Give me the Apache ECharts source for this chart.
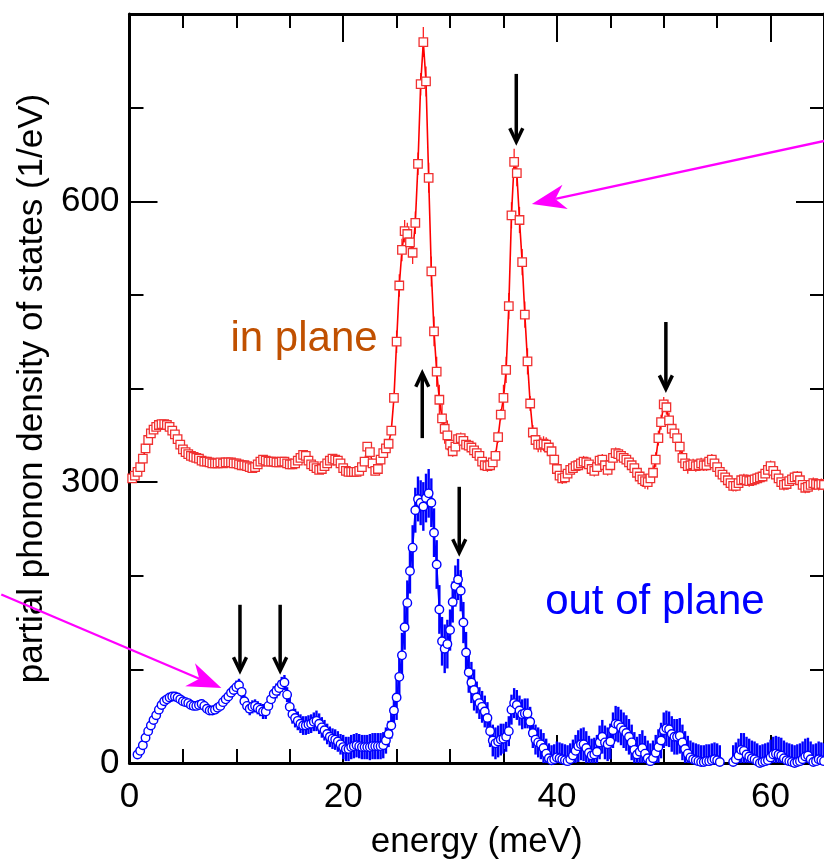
<!DOCTYPE html>
<html><head><meta charset="utf-8">
<script src="https://cdn.jsdelivr.net/npm/echarts@6/dist/echarts.min.js"></script>
<style>html,body{margin:0;padding:0;background:#fff}#c{width:824px;height:865px}</style>
</head><body><div id="c"></div>
<script>
// energy grid (meV)
const E_START = 0.25, E_STEP = 0.25;
// in-plane partial phonon DOS (1/eV), one value per grid point
const inPlane = [
304,307,311,316,325,336,345,352,356,359,361,362,362,361,359,355,351,346,340,335,
332,330,328,327,326,325,323,322,322,321,320,320,320,321,320,321,321,321,320,320,
319,318,318,317,316,315,316,319,322,324,323,322,322,322,321,321,322,322,320,319,
319,320,323,326,329,328,323,319,317,315,313,314,317,320,323,325,324,323,320,315,
312,311,311,311,311,312,316,322,338,332,320,312,314,324,331,336,341,355,390,450,
510,548,568,565,556,545,577,640,725,770,728,625,525,461,418,388,368,357,350,340,
333,338,346,347,344,340,339,337,334,331,328,322,318,317,318,321,328,348,372,390,
420,488,585,642,630,580,535,479,429,384,353,345,340,340,341,340,337,333,324,314,
307,304,305,309,313,315,317,318,320,322,321,319,314,312,316,323,324,318,313,318,
326,331,330,328,326,324,321,318,315,310,306,303,301,300,304,310,324,347,364,383,
380,366,357,352,347,338,326,320,317,318,319,317,318,320,318,318,322,324,320,316,
311,308,305,302,299,296,296,299,302,303,302,301,302,303,304,305,306,309,313,317,
312,308,304,300,297,298,301,303,305,306,302,297,294,295,297,299,298,297,298,297
];
// out-of-plane partial phonon DOS (1/eV)
const outPlane = [
null,null,9,13,19,27,34,40,46,51,57,62,66,68,70,71,71,70,68,66,
65,64,62,61,61,62,63,61,58,56,56,57,59,61,65,68,71,75,78,81,
83,76,66,61,58,60,61,59,57,55,55,61,68,74,77,80,84,86,73,60,
52,48,45,42,40,40,41,42,44,45,42,38,35,31,28,26,25,23,20,17,
15,15,17,18,19,18,17,17,17,17,18,18,18,18,19,24,31,40,56,70,
92,115,145,171,205,230,270,282,278,274,283,288,278,246,212,164,130,122,127,142,
172,189,196,184,150,118,97,86,78,70,64,60,55,48,34,24,21,23,25,26,
28,34,57,64,62,56,52,53,53,44,32,25,22,20,16,10,5,3,4,6,
5,4,3,2,4,8,13,18,20,20,16,11,8,9,12,22,28,22,20,23,
35,42,41,38,35,32,28,22,14,9,12,16,10,5,2,5,11,17,24,35,
37,36,31,28,28,29,22,15,10,6,4,3,2,1,1,2,2,3,4,3,
1,null,null,null,null,1,4,8,14,13,9,7,5,4,2,0,1,2,3,6,
9,10,9,8,5,3,2,1,0,1,2,4,7,8,4,1,2,4,3,2
];
// error-bar half lengths, per 2.5 meV energy bin
const ERR_BIN = 2.5;
const inPlaneErr  = [4,4,4,4,4,4,4,4,4,5,12,16,6,6,14,8,6,6,6,8,8,6,6,6,6,6];
const outPlaneErr = [2,2,3,4,7,8,10,11,13,14,24,26,22,17,16,16,17,18,19,19,19,18,18,19,19,19];
// axes
const X_MIN = 0, X_MAX = 65, X_MINOR = 5, xMajorTicks = [0,20,40,60];
const Y_MIN = 0, Y_MAX = 800, Y_MINOR = 100, yMajorTicks = [0,300,600];
// annotations (data coordinates)
const blackArrows = [ // [energy, from, to]
  [36.2, 736, 662], [50.2, 471, 398], [30.86, 295, 223], [10.34, 169, 97], [14.1, 169, 97], [27.4, 347, 418]
];
const pinkArrows = [ // [[fromE, fromV], [toE, toV]]
  [[66.5, 668], [37.66, 597]], [[-12, 180], [8.6, 80]]
];
const labels = [
  {text: 'in plane', at: [9.45, 452], color: '#c05000'},
  {text: 'out of plane', at: [38.9, 171], color: '#0000ff'}
];

const FONT = '"Liberation Sans", Arial, Helvetica, sans-serif';
const energy = i => E_START + i * E_STEP;
const redData = inPlane.map((v, i) => [energy(i), v]);
const blueData = outPlane.map((v, i) => [energy(i), v]);
const binErr = (arr, e) => arr[Math.min(arr.length - 1, Math.floor(e / ERR_BIN))];
const redErr = inPlane.map((v, i) => v == null ? null : [energy(i), v, binErr(inPlaneErr, energy(i))]).filter(Boolean);
const blueErr = outPlane.map((v, i) => v == null ? null : [energy(i), v, binErr(outPlaneErr, energy(i))]).filter(Boolean);

function errRender(color, width) {
  return function (params, api) {
    const x = api.value(0), y = api.value(1), e = api.value(2);
    const p1 = api.coord([x, y - e]), p2 = api.coord([x, y + e]);
    return {type: 'line', shape: {x1: p1[0], y1: p1[1], x2: p2[0], y2: p2[1]},
      style: {stroke: color, lineWidth: width}};
  };
}

function xAxisCfg(pos, major, showLine) {
  return {
    type: 'value', position: pos, min: X_MIN, max: X_MAX, interval: major ? 20 : X_MINOR,
    axisLine: {show: showLine, onZero: false, lineStyle: {color: '#000', width: 3}},
    axisTick: major ? {show: true, inside: true, length: 28, lineStyle: {color: '#000', width: 2}, customValues: xMajorTicks}
                    : {show: true, inside: true, length: 14, lineStyle: {color: '#000', width: 2}},
    axisLabel: (major && pos === 'bottom') ? {show: true, customValues: xMajorTicks, margin: 17, color: '#000', fontSize: 35, fontFamily: FONT} : {show: false},
    splitLine: {show: false},
    name: (major && pos === 'bottom') ? 'energy (meV)' : '',
    nameLocation: 'middle', nameGap: 62,
    nameTextStyle: {fontSize: 35, fontFamily: FONT, color: '#000'}
  };
}
function yAxisCfg(pos, major, showLine) {
  return {
    type: 'value', position: pos, min: Y_MIN, max: Y_MAX, interval: major ? 300 : Y_MINOR,
    axisLine: {show: showLine, onZero: false, lineStyle: {color: '#000', width: 3}},
    axisTick: major ? {show: true, inside: true, length: 28, lineStyle: {color: '#000', width: 2}, customValues: yMajorTicks}
                    : {show: true, inside: true, length: 14, lineStyle: {color: '#000', width: 2}},
    axisLabel: (major && pos === 'left') ? {show: true, customValues: yMajorTicks, margin: 10, color: '#000', fontSize: 35, fontFamily: FONT} : {show: false},
    splitLine: {show: false},
    name: (major && pos === 'left') ? 'partial phonon density of states (1/eV)' : '',
    nameLocation: 'middle', nameGap: 69,
    nameTextStyle: {fontSize: 35, fontFamily: FONT, color: '#000'}
  };
}

const chart = echarts.init(document.getElementById('c'), null, {renderer: 'canvas'});
chart.setOption({
  animation: false,
  backgroundColor: '#fff',
  grid: {left: 129.5, top: 14, right: -8.6, bottom: 99, containLabel: false},
  xAxis: [xAxisCfg('bottom', false, true), xAxisCfg('bottom', true, false), xAxisCfg('top', false, true), xAxisCfg('top', true, false)],
  yAxis: [yAxisCfg('left', false, true), yAxisCfg('left', true, false), yAxisCfg('right', false, true), yAxisCfg('right', true, false)],
  series: [
    {type: 'custom', name: 'in plane err', xAxisIndex: 0, yAxisIndex: 0, data: redErr, clip: true, z: 1,
      renderItem: errRender('#ff2020', 1.3), silent: true},
    {type: 'custom', name: 'out of plane err', xAxisIndex: 0, yAxisIndex: 0, data: blueErr, clip: true, z: 1,
      renderItem: errRender('#0000ff', 2.4), silent: true},
    {type: 'line', name: 'in plane', xAxisIndex: 0, yAxisIndex: 0, data: redData, z: 3,
      symbol: 'rect', symbolSize: 8.5, showSymbol: true, connectNulls: false,
      lineStyle: {color: '#ff0000', width: 1.6},
      itemStyle: {color: '#ffffff', borderColor: '#f03030', borderWidth: 1.3}},
    {type: 'line', name: 'out of plane', xAxisIndex: 0, yAxisIndex: 0, data: blueData, z: 4,
      symbol: 'circle', symbolSize: 8.5, showSymbol: true, connectNulls: false,
      lineStyle: {color: '#0000ff', width: 1.6},
      itemStyle: {color: '#ffffff', borderColor: '#0000ff', borderWidth: 1.4}}
  ]
});

function px(p) { return chart.convertToPixel({xAxisIndex: 0, yAxisIndex: 0}, p); }
const g = [];
blackArrows.forEach(([e, v0, v1]) => {
  const a = px([e, v0]), b = px([e, v1]);
  const dir = b[1] > a[1] ? 1 : -1;
  g.push({type: 'line', shape: {x1: a[0], y1: a[1], x2: b[0], y2: b[1] - dir * 3},
    style: {stroke: '#000', lineWidth: 3.5}, z: 10});
  g.push({type: 'polyline', shape: {points: [[b[0] - 6.5, b[1] - dir * 15], [b[0], b[1] - dir * 1.5], [b[0] + 6.5, b[1] - dir * 15]]},
    style: {stroke: '#000', lineWidth: 3.5, fill: null, lineJoin: 'miter'}, z: 10});
});
pinkArrows.forEach(([s, t]) => {
  const a = px(s), b = px(t);
  const dx = b[0] - a[0], dy = b[1] - a[1], len = Math.hypot(dx, dy);
  const ux = dx / len, uy = dy / len, nx = -uy, ny = ux;
  const L = 34, W = 12.5, N = 24;
  g.push({type: 'line', shape: {x1: a[0], y1: a[1], x2: b[0] - ux * N, y2: b[1] - uy * N},
    style: {stroke: '#ff00ff', lineWidth: 2.3}, z: 10});
  g.push({type: 'polygon', shape: {points: [
    [b[0], b[1]],
    [b[0] - ux * L + nx * W, b[1] - uy * L + ny * W],
    [b[0] - ux * N, b[1] - uy * N],
    [b[0] - ux * L - nx * W, b[1] - uy * L - ny * W]]},
    style: {fill: '#ff00ff'}, z: 10});
});
labels.forEach(l => {
  const p = px(l.at);
  g.push({type: 'text', x: p[0], y: p[1], z: 10,
    style: {text: l.text, fill: l.color, fontSize: 42, fontFamily: FONT, align: 'left', verticalAlign: 'middle'}});
});
chart.setOption({graphic: g});
</script>
</body></html>
